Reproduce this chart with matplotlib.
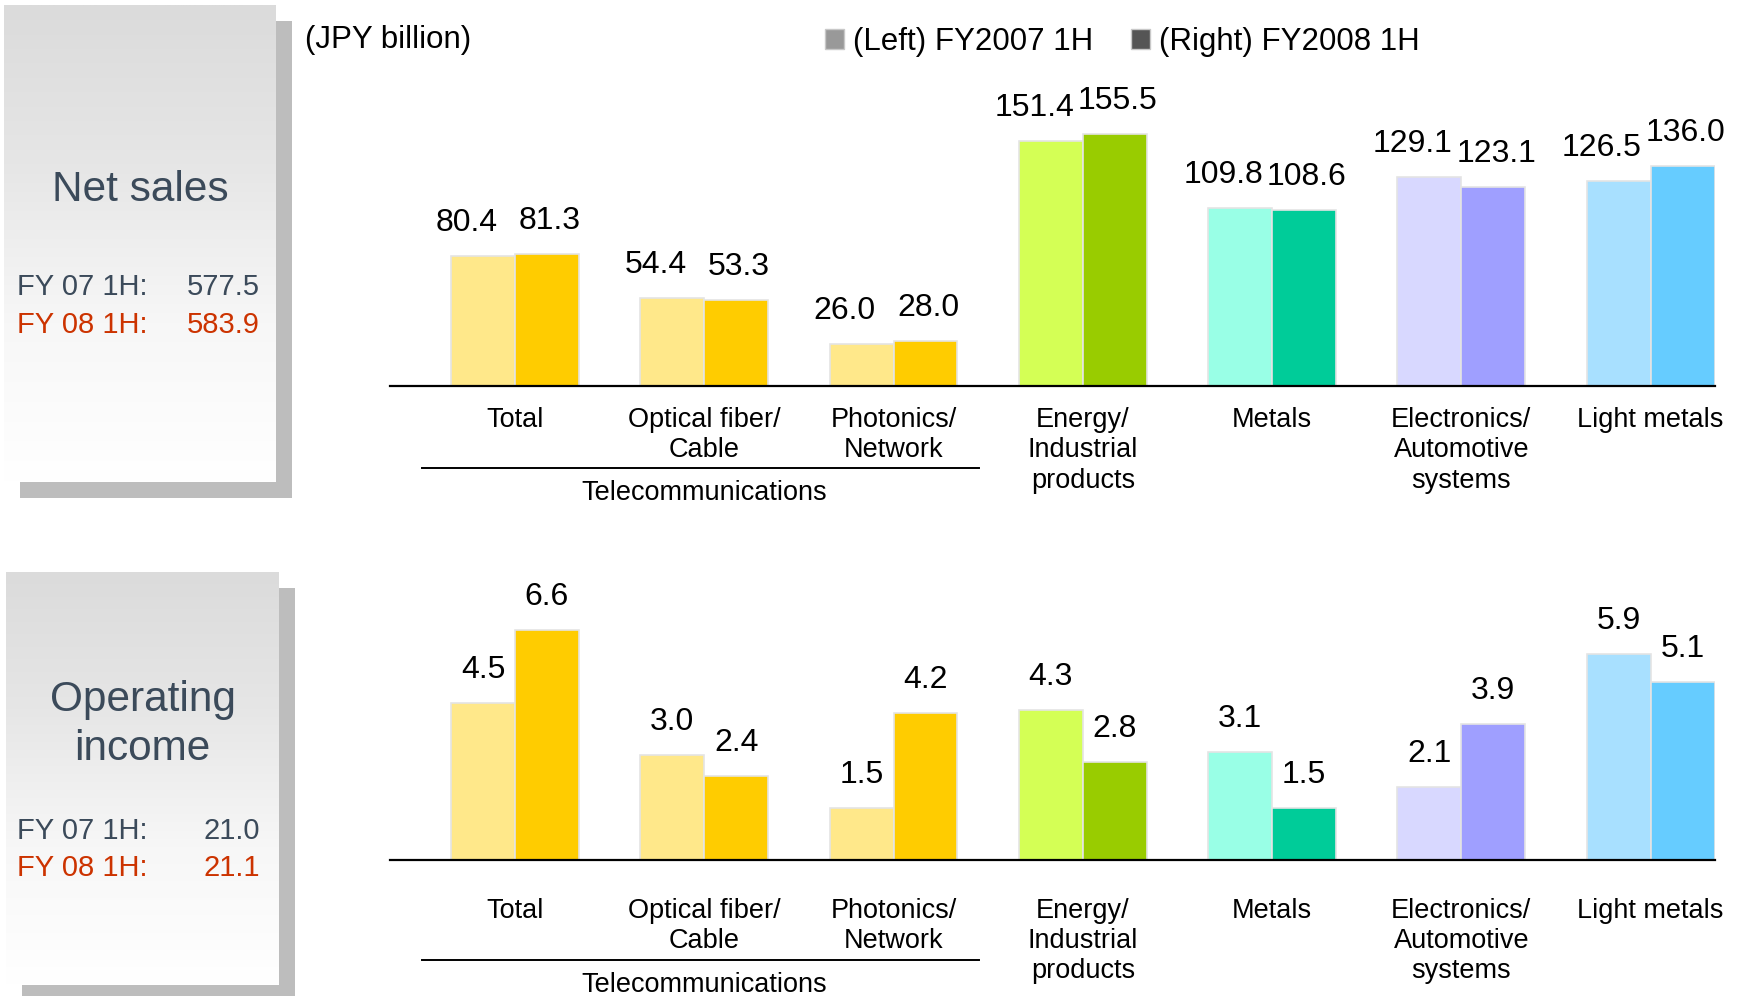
import numpy as np
import matplotlib
matplotlib.use("Agg")
import matplotlib.pyplot as plt
from matplotlib.patches import Rectangle, Patch
from matplotlib.colors import LinearSegmentedColormap
from matplotlib.transforms import offset_copy

plt.rcParams['font.family'] = ['Liberation Sans', 'DejaVu Sans']

# segment data, JPY billion
segments = ['Total', 'Optical fiber/\nCable', 'Photonics/\nNetwork',
            'Energy/\nIndustrial\nproducts', 'Metals',
            'Electronics/\nAutomotive\nsystems', 'Light metals']
sales_fy07 = [80.4, 54.4, 26.0, 151.4, 109.8, 129.1, 126.5]
sales_fy08 = [81.3, 53.3, 28.0, 155.5, 108.6, 123.1, 136.0]
income_fy07 = [4.5, 3.0, 1.5, 4.3, 3.1, 2.1, 5.9]
income_fy08 = [6.6, 2.4, 4.2, 2.8, 1.5, 3.9, 5.1]

sales_totals = ['577.5', '583.9']
income_totals = ['21.0', '21.1']

light_colors = ['#FFE88A', '#FFE88A', '#FFE88A', '#D4FF55', '#99FFE6', '#D8D8FF', '#A8E0FF']
dark_colors = ['#FFCC00', '#FFCC00', '#FFCC00', '#99CC00', '#00CC99', '#9F9FFF', '#66CCFF']

W, H = 1738, 996
fig = plt.figure(figsize=(W / 100, H / 100), dpi=100)


def box(x0, y0, x1, y1):
    # pixel box (top-left origin) -> figure fraction rect
    return [x0 / W, 1 - y1 / H, (x1 - x0) / W, (y1 - y0) / H]


def side_panel(rect, title_lines, title_y, totals, rows_y):
    x0, y0, x1, y1 = rect
    sx0, sy0, sx1, sy1 = box(x0 + 16, y0 + 16, x1 + 16, y1 + 16)
    fig.patches.append(Rectangle((sx0, sy0), sx1, sy1, transform=fig.transFigure,
                                 facecolor='#bdbdbd', edgecolor='none', zorder=-5))
    bax = fig.add_axes(box(x0, y0, x1, y1))
    cmap = LinearSegmentedColormap.from_list('g', ['#dbdbdb', '#e6e6e6', '#f7f7f7', '#ffffff'])
    grad = np.linspace(0, 1, 256).reshape(-1, 1)
    bax.imshow(grad, aspect='auto', cmap=cmap, extent=(0, 1, 1, 0))
    bax.axis('off')
    cx = (x0 + x1) / 2
    for line, ty in zip(title_lines, title_y):
        fig.text(cx / W, 1 - ty / H, line, ha='center', va='center',
                 fontsize=30.5, color='#3b4a5a')
    for label, val, ry, col in zip(['FY 07 1H:', 'FY 08 1H:'], totals, rows_y,
                                   ['#3b4a5a', '#cc3300']):
        fig.text(17 / W, 1 - ry / H, label, ha='left', va='center', fontsize=21, color=col)
        fig.text(260 / W, 1 - ry / H, val, ha='right', va='center', fontsize=21, color=col)


side_panel((4, 5, 276, 482), ['Net sales'], [190], sales_totals, [287, 325])
side_panel((6, 572, 279, 985), ['Operating', 'income'], [700, 749], income_totals, [831, 868])

x = np.arange(len(segments))
bw = 0.338


def bar_panel(ax, v07, v08, ymax, label_off, cat_off, telecom_line, telecom_text, shift):
    ax.bar(x - bw / 2, v07, bw, color=light_colors, edgecolor='#e4e4e4', linewidth=1.2)
    ax.bar(x + bw / 2, v08, bw, color=dark_colors, edgecolor='#e4e4e4', linewidth=1.2)
    for xi, a, b in zip(x, v07, v08):
        ax.annotate(f'{a:.1f}', (xi - bw / 2, a), xytext=(-shift, label_off),
                    textcoords='offset points', ha='center', va='baseline', fontsize=23)
        ax.annotate(f'{b:.1f}', (xi + bw / 2, b), xytext=(shift / 6, label_off),
                    textcoords='offset points', ha='center', va='baseline', fontsize=23)
        ax.annotate(segments[xi], (xi, 0), xytext=(0, -cat_off), textcoords='offset points',
                    ha='center', va='top', fontsize=19.5, linespacing=1.22,
                    annotation_clip=False)
    ax.set_xlim(-0.66, 6.34)
    ax.set_ylim(0, ymax)
    for s in ['top', 'right', 'left']:
        ax.spines[s].set_visible(False)
    ax.spines['bottom'].set_linewidth(1.6)
    ax.set_xticks([])
    ax.set_yticks([])
    ax.patch.set_alpha(0)

    # bracket grouping the telecom segments
    tr = offset_copy(ax.get_xaxis_transform(), fig=fig, y=-telecom_line, units='points')
    ax.plot([-0.49, 2.45], [0, 0], color='black', lw=1.4, transform=tr, clip_on=False)
    tt = offset_copy(ax.get_xaxis_transform(), fig=fig, y=-telecom_text, units='points')
    ax.text(x[:3].mean(), 0, 'Telecommunications', transform=tt, ha='center', va='center',
            fontsize=19.5)


ax1 = fig.add_axes(box(390, 70, 1715, 386))
bar_panel(ax1, sales_fy07, sales_fy08, 195, 18, 15, 59, 77, 12)

ax2 = fig.add_axes(box(390, 560, 1715, 860))
bar_panel(ax2, income_fy07, income_fy08, 8.6, 18, 27, 72, 90, 0)

fig.text(305 / W, 1 - 40 / H, '(JPY billion)', ha='left', va='center', fontsize=22.5)

handles = [Patch(facecolor='#999999', edgecolor='#c8c8c8', label='(Left) FY2007 1H'),
           Patch(facecolor='#555555', edgecolor='#c8c8c8', label='(Right) FY2008 1H')]
fig.legend(handles=handles, loc='center left', bbox_to_anchor=(797 / W, 1 - 42 / H),
           ncol=2, frameon=False, fontsize=22.5, handlelength=0.6, handleheight=0.6,
           handletextpad=0.3, columnspacing=1.2)

fig.savefig('out.png', dpi=100)
